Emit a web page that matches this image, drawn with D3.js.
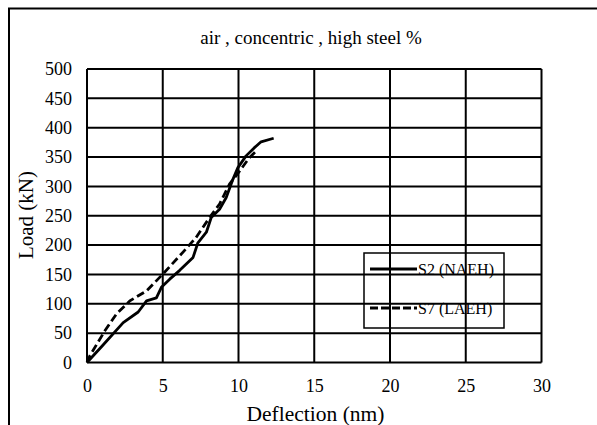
<!DOCTYPE html>
<html>
<head>
<meta charset="utf-8">
<script src="https://cdn.jsdelivr.net/npm/d3@7"></script>
<style>
  html, body { margin: 0; padding: 0; background: #fff; }
  svg { display: block; }
</style>
</head>
<body>
<svg id="chart" width="597" height="425"></svg>
<script>
// Load–deflection readings
const s2Deflection = [0, 1.0, 2.39, 3.38, 3.93, 4.58, 4.91, 5.46, 6.12, 7.0, 7.32, 7.88, 8.2, 8.75, 9.19, 9.63, 9.96, 10.5, 11.05, 11.49, 12.32];
const s2Load       = [0, 28, 68, 86, 105, 110, 128, 142, 157, 179, 204, 222, 247, 261, 281, 312, 332, 352, 366, 376, 382];
const s7Deflection = [0, 0.2, 1.18, 1.95, 2.83, 3.93, 5.02, 6.34, 7.2, 8.09, 8.75, 9.41, 10.07, 10.72, 11.27];
const s7Load       = [0, 12, 54, 83, 105, 122, 151, 188, 213, 247, 270, 304, 326, 349, 363];

const seriesNames = ["S2 (NAEH)", "S7 (LAEH)"];
const xTicks = [0, 5, 10, 15, 20, 25, 30];
const yTicks = [0, 50, 100, 150, 200, 250, 300, 350, 400, 450, 500];
const chartTitle = "air , concentric , high steel %";
const xTitle = "Deflection  (nm)";
const yTitle = "Load (kN)";

const serif = "'Liberation Serif'";

const svg = d3.select("#chart");
const plot = { left: 87, right: 541.5, top: 69, bottom: 362.5 };

const x = d3.scaleLinear().domain([0, 30]).range([plot.left, plot.right]);
const y = d3.scaleLinear().domain([0, 500]).range([plot.bottom, plot.top]);

// outer chart frame (runs past the right and bottom edges)
svg.append("path")
  .attr("d", `M9,430 L9,8.5 L610,8.5`)
  .attr("fill", "none").attr("stroke", "#000").attr("stroke-width", 2);

// title
svg.append("text")
  .attr("x", 311).attr("y", 44)
  .attr("text-anchor", "middle")
  .style("font-family", serif)
  .style("font-size", "19px")
  .text(chartTitle);

// grid
const grid = svg.append("g").attr("stroke", "#000").attr("stroke-width", 2);
grid.selectAll("line.h").data(yTicks).join("line")
  .attr("x1", plot.left).attr("x2", plot.right)
  .attr("y1", d => y(d)).attr("y2", d => y(d));
grid.selectAll("line.v").data(xTicks).join("line")
  .attr("y1", plot.top).attr("y2", plot.bottom)
  .attr("x1", d => x(d)).attr("x2", d => x(d));

// tick labels via d3 axes
const xAxis = svg.append("g")
  .attr("transform", `translate(0,${plot.bottom})`)
  .call(d3.axisBottom(x).tickValues(xTicks).tickSize(0).tickPadding(16.5).tickFormat(d3.format("d")));
const yAxis = svg.append("g")
  .attr("transform", `translate(${plot.left},0)`)
  .call(d3.axisLeft(y).tickValues(yTicks).tickSize(0).tickPadding(15).tickFormat(d3.format("d")));
[xAxis, yAxis].forEach(a => {
  a.attr("font-family", null).attr("font-size", null);
  a.select(".domain").remove();
  a.selectAll("text")
    .style("font-family", serif)
    .style("font-size", "18px")
    .attr("fill", "#000");
});

// axis titles
svg.append("text")
  .attr("x", 315.5).attr("y", 421)
  .attr("text-anchor", "middle")
  .style("font-family", serif)
  .style("font-size", "21.5px")
  .text(xTitle);
svg.append("text")
  .attr("transform", "translate(33,215) rotate(-90)")
  .attr("text-anchor", "middle")
  .style("font-family", serif)
  .style("font-size", "21px")
  .text(yTitle);

// series lines
const line = d3.line().x(d => x(d[0])).y(d => y(d[1]));
const s2 = s2Deflection.map((d, i) => [d, s2Load[i]]);
const s7 = s7Deflection.map((d, i) => [d, s7Load[i]]);

svg.append("path").datum(s2)
  .attr("d", line)
  .attr("fill", "none").attr("stroke", "#000").attr("stroke-width", 2.8)
  .attr("stroke-linejoin", "round");
svg.append("path").datum(s7)
  .attr("d", line)
  .attr("fill", "none").attr("stroke", "#000").attr("stroke-width", 2.8)
  .attr("stroke-dasharray", "8,4");

// legend
const legend = svg.append("g");
legend.append("rect")
  .attr("x", 364).attr("y", 253).attr("width", 140).attr("height", 75)
  .attr("fill", "none").attr("stroke", "#000").attr("stroke-width", 1.5);
const legendItems = [
  { name: seriesNames[0], dash: null, yy: 269 },
  { name: seriesNames[1], dash: "8,3", yy: 308 }
];
legendItems.forEach(it => {
  legend.append("line")
    .attr("x1", 370).attr("x2", 417).attr("y1", it.yy).attr("y2", it.yy)
    .attr("stroke", "#000").attr("stroke-width", 3)
    .attr("stroke-dasharray", it.dash);
  legend.append("text")
    .attr("x", 418).attr("y", it.yy + 5.5)
    .style("font-family", serif)
    .style("font-size", "16px")
    .text(it.name);
});
</script>
</body>
</html>
